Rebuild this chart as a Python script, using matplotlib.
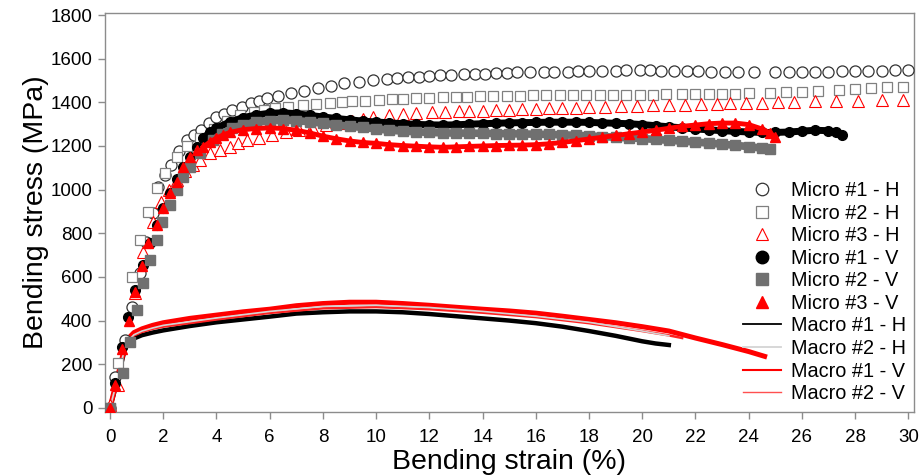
"""
Bending stress vs bending strain: micro specimens (markers) and macro specimens (lines),
H and V orientations.
"""

import numpy as np
import matplotlib
matplotlib.use('Agg')
import matplotlib.pyplot as plt
from matplotlib.lines import Line2D

# ── Data ──────────────────────────────────────────────────────────────────────
# Micro #1 - H (open circles)
m1h_x = [0, 0.19, 0.56, 0.83, 1.13, 1.35, 1.6, 1.8, 2.05, 2.3, 2.6, 2.9, 3.15, 3.4, 3.7,
         4.0, 4.3, 4.6, 4.95, 5.3, 5.6, 5.9, 6.3, 6.8, 7.3, 7.8, 8.3, 8.8, 9.35, 9.9,
         10.4, 10.8, 11.2, 11.6, 12.0, 12.4, 12.8, 13.3, 13.7, 14.1, 14.5, 14.9, 15.3,
         15.8, 16.3, 16.7, 17.2, 17.6, 18.0, 18.5, 19.0, 19.4, 19.9, 20.3, 20.7, 21.2,
         21.7, 22.1, 22.6, 23.1, 23.6, 24.2, 25.0, 25.5, 26.0, 26.5, 27.0, 27.5, 28.0,
         28.5, 29.0, 29.5, 30.0]
m1h_y = [0, 142, 311, 462, 618, 760, 892, 1011, 1065, 1112, 1175, 1227, 1250, 1272, 1305,
         1332, 1348, 1364, 1380, 1396, 1408, 1419, 1430, 1442, 1453, 1465, 1476, 1487, 1494, 1501,
         1506, 1510, 1514, 1518, 1521, 1524, 1526, 1528, 1530, 1532, 1534, 1536, 1537,
         1538, 1539, 1540, 1541, 1542, 1543, 1544, 1545, 1546, 1547, 1546, 1545, 1544,
         1543, 1542, 1541, 1540, 1539, 1538, 1538, 1538, 1539, 1540, 1541, 1542, 1543,
         1544, 1545, 1546, 1547]

# Micro #2 - H (open squares)
m2h_x = [0, 0.3, 0.83, 1.13, 1.43, 1.76, 2.07, 2.5, 2.9, 3.38, 3.9, 4.4, 4.9, 5.4, 5.8,
         6.2, 6.7, 7.25, 7.75, 8.26, 8.7, 9.1, 9.6, 10.1, 10.6, 11.0, 11.5, 12.0, 12.5,
         13.0, 13.4, 13.9, 14.4, 14.9, 15.4, 15.9, 16.4, 16.9, 17.4, 17.9, 18.4, 18.9,
         19.4, 19.9, 20.4, 20.9, 21.5, 22.0, 22.5, 23.0, 23.5, 24.0, 24.8, 25.4, 26.0,
         26.6, 27.4, 28.0, 28.6, 29.2, 29.8]
m2h_y = [0, 206, 600, 769, 897, 1007, 1076, 1149, 1200, 1236, 1280, 1315, 1340, 1355, 1365,
         1373, 1380, 1387, 1392, 1396, 1400, 1404, 1407, 1410, 1413, 1416, 1419, 1421, 1423,
         1425, 1426, 1428, 1429, 1430, 1431, 1432, 1432, 1433, 1433, 1433, 1434, 1434,
         1434, 1435, 1435, 1436, 1437, 1437, 1438, 1439, 1440, 1441, 1443, 1446, 1449,
         1452, 1456, 1460, 1464, 1468, 1472]

# Micro #3 - H (open triangles)
m3h_x = [0, 0.3, 0.94, 1.24, 1.6, 1.9, 2.2, 2.5, 2.8, 3.1, 3.38, 3.75, 4.13, 4.5, 4.8,
         5.14, 5.6, 6.1, 6.6, 7.1, 7.6, 8.1, 8.6, 9.1, 9.5, 9.9, 10.5, 11.0, 11.5, 12.1,
         12.6, 13.1, 13.5, 14.0, 14.5, 15.0, 15.5, 16.0, 16.5, 17.0, 17.5, 18.0, 18.6,
         19.2, 19.8, 20.4, 21.0, 21.6, 22.2, 22.8, 23.3, 23.9, 24.5, 25.1, 25.7, 26.5,
         27.3, 28.1, 29.0, 29.8]
m3h_y = [14, 105, 526, 714, 851, 943, 1000, 1045, 1085, 1115, 1135, 1167, 1181, 1195, 1213,
         1227, 1236, 1252, 1265, 1275, 1285, 1295, 1305, 1315, 1324, 1332, 1341, 1346, 1350, 1355,
         1357, 1359, 1361, 1362, 1364, 1366, 1368, 1370, 1372, 1374, 1376, 1378, 1380,
         1382, 1384, 1386, 1387, 1389, 1391, 1393, 1395, 1397, 1399, 1401, 1403, 1405,
         1407, 1408, 1409, 1410]

# Micro #1 - V (filled circles)
m1v_x = [0, 0.19, 0.45, 0.68, 0.94, 1.24, 1.5, 1.76, 2.0, 2.25, 2.5, 2.75, 3.0, 3.25, 3.5,
         3.75, 4.0, 4.5, 5.0, 5.5, 6.0, 6.5, 7.0, 7.5, 8.0, 8.5, 9.0, 9.5, 10.0, 10.5,
         11.0, 11.5, 12.0, 12.5, 13.0, 13.5, 14.0, 14.5, 15.0, 15.5, 16.0, 16.5, 17.0,
         17.5, 18.0, 18.5, 19.0, 19.5, 20.0, 20.5, 21.0, 21.5, 22.0, 22.5, 23.0, 23.5,
         24.0, 24.5, 25.0, 25.5, 26.0, 26.5, 27.0, 27.3, 27.5]
m1v_y = [0, 114, 279, 416, 540, 654, 755, 840, 915, 985, 1050, 1105, 1150, 1195, 1236,
         1262, 1282, 1310, 1330, 1342, 1350, 1352, 1348, 1340, 1333, 1326, 1320, 1314, 1310, 1306,
         1302, 1299, 1297, 1296, 1297, 1300, 1302, 1304, 1306, 1307, 1308, 1309, 1309,
         1309, 1308, 1306, 1304, 1302, 1298, 1293, 1288, 1283, 1278, 1274, 1270, 1267,
         1264, 1262, 1262, 1264, 1268, 1272, 1270, 1262, 1250]

# Micro #2 - V (filled squares)
m2v_x = [0, 0.5, 0.75, 1.0, 1.24, 1.5, 1.76, 1.95, 2.25, 2.5, 2.75, 3.0, 3.38, 3.87, 4.2,
         4.6, 5.0, 5.5, 6.0, 6.5, 7.0, 7.5, 8.0, 8.5, 9.0, 9.5, 10.0, 10.5, 11.0, 11.5,
         12.0, 12.5, 13.0, 13.5, 14.0, 14.5, 15.0, 15.5, 16.0, 16.5, 17.0, 17.5, 18.0,
         18.5, 19.0, 19.5, 20.0, 20.5, 21.0, 21.5, 22.0, 22.5, 23.0, 23.5, 24.0, 24.5, 24.8]
m2v_y = [0, 160, 300, 449, 572, 677, 769, 851, 929, 998, 1057, 1103, 1167, 1227, 1255,
         1282, 1296, 1309, 1315, 1318, 1316, 1311, 1304, 1297, 1290, 1285, 1278, 1272, 1268, 1265,
         1262, 1260, 1259, 1259, 1258, 1257, 1256, 1255, 1254, 1253, 1251, 1249, 1246,
         1243, 1240, 1237, 1234, 1230, 1226, 1222, 1218, 1213, 1208, 1203, 1197, 1190, 1186]

# Micro #3 - V (filled triangles)
m3v_x = [0, 0.2, 0.45, 0.7, 0.95, 1.2, 1.43, 1.76, 2.0, 2.25, 2.5, 2.75, 3.0, 3.27, 3.5,
         3.75, 4.0, 4.24, 4.5, 5.0, 5.5, 6.0, 6.5, 7.0, 7.5, 8.0, 8.5, 9.0, 9.5, 10.0,
         10.5, 11.0, 11.5, 12.0, 12.5, 13.0, 13.5, 14.0, 14.5, 15.0, 15.5, 16.0, 16.5,
         17.0, 17.5, 18.0, 18.5, 19.0, 19.5, 20.0, 20.5, 21.0, 21.5, 22.0, 22.5, 23.0,
         23.5, 24.0, 24.5, 24.8, 25.0]
m3v_y = [0, 105, 270, 400, 530, 650, 755, 838, 915, 984, 1034, 1103, 1149, 1181, 1195,
         1218, 1236, 1250, 1262, 1275, 1280, 1283, 1280, 1272, 1260, 1245, 1233, 1223, 1216, 1212,
         1206, 1202, 1199, 1196, 1194, 1196, 1198, 1200, 1202, 1203, 1204, 1206, 1210,
         1216, 1224, 1232, 1240, 1248, 1256, 1264, 1272, 1281, 1290, 1296, 1302, 1305,
         1305, 1298, 1278, 1260, 1240]

# Macro specimens (lines)
mac1h_x = [0, 0.2, 0.4, 0.55, 0.7, 0.9, 1.2, 1.6, 2, 3, 4, 5, 6, 7, 8, 9, 10, 11, 12, 13,
           14, 15, 16, 17, 18, 19, 20, 20.5, 21]
mac1h_y = [0, 90, 190, 265, 300, 318, 333, 345, 355, 375, 392, 405, 418, 432, 438, 442, 442,
           438, 430, 420, 410, 400, 388, 372, 352, 330, 305, 295, 288]

mac2h_x = [0, 0.2, 0.4, 0.55, 0.7, 0.9, 1.2, 1.6, 2, 4, 6, 8, 10, 12, 14, 16, 18, 20, 21]
mac2h_y = [0, 95, 195, 272, 310, 335, 352, 366, 378, 412, 442, 465, 470, 460, 442, 420, 392, 352, 330]

mac1v_x = [0, 0.2, 0.4, 0.55, 0.7, 0.9, 1.2, 1.6, 2, 3, 4, 5, 6, 7, 8, 9, 10, 11, 12, 13,
           14, 15, 16, 17, 18, 19, 20, 21, 22, 23, 24, 24.6]
mac1v_y = [0, 100, 200, 280, 320, 345, 362, 378, 390, 410, 425, 440, 452, 468, 478, 484, 484,
           478, 470, 461, 452, 444, 434, 420, 405, 390, 372, 352, 320, 290, 258, 236]

mac2v_x = [0, 0.2, 0.4, 0.55, 0.7, 0.9, 1.2, 1.6, 2, 4, 6, 8, 10, 12, 14, 16, 18, 20, 21, 21.5]
mac2v_y = [0, 95, 195, 275, 310, 332, 348, 362, 372, 405, 435, 456, 462, 452, 436, 416, 388, 352, 332, 320]

# ── Figure ────────────────────────────────────────────────────────────────────
plt.rcParams.update({
    'font.family': ['Liberation Sans', 'DejaVu Sans'],
    'axes.edgecolor': '#8c8c8c', 'axes.linewidth': 1.0,
    'xtick.color': '#8c8c8c', 'ytick.color': '#8c8c8c',
    'xtick.labelcolor': 'black', 'ytick.labelcolor': 'black',
    'xtick.major.size': 5, 'ytick.major.size': 5,
    'xtick.major.width': 1.0, 'ytick.major.width': 1.0,
})

fig = plt.figure(figsize=(9.21, 4.76), dpi=100)
ax = fig.add_axes([0.114, 0.134, 0.878, 0.839])

RED = '#ff0000'
GREY = '#707070'
BAND_FROM = 3.5   # filled markers merge into a continuous band beyond this strain

# macro lines first (under the markers)
ax.plot(mac1h_x, mac1h_y, color='black', lw=3.2, zorder=2)
ax.plot(mac2h_x, mac2h_y, color='#d4d4d4', lw=1.2, zorder=3)
ax.plot(mac1v_x, mac1v_y, color=RED, lw=3.6, zorder=2.5)
ax.plot(mac2v_x, mac2v_y, color='#ff2020', lw=1.8, zorder=2.6)

# open markers (H)
ax.plot(m1h_x, m1h_y, ls='none', marker='o', ms=8, mfc='white', mec='#333333', mew=0.9, zorder=4)
ax.plot(m2h_x, m2h_y, ls='none', marker='s', ms=7.5, mfc='white', mec='#808080', mew=0.9, zorder=4)
ax.plot(m3h_x, m3h_y, ls='none', marker='^', ms=8, mfc='white', mec=RED, mew=0.8, zorder=4)

# filled markers (V), with a band line under the dense part
for xs, ys, mk, col, lw, ms, z in [
    (m1v_x, m1v_y, 'o', 'black', 5.0, 7.0, 5),
    (m2v_x, m2v_y, 's', GREY,    5.5, 7.0, 5),
    (m3v_x, m3v_y, '^', RED,     3.5, 7.5, 6),
]:
    xs, ys = np.asarray(xs), np.asarray(ys)
    band = xs >= BAND_FROM
    ax.plot(xs[band], ys[band], color=col, lw=lw, zorder=z)
    ax.plot(xs, ys, ls='none', marker=mk, ms=ms, color=col, zorder=z)

ax.set_xlim(-0.19, 30.2)
ax.set_ylim(-20, 1810)
ax.set_xticks(np.arange(0, 31, 2))
ax.set_yticks(np.arange(0, 1801, 200))
ax.tick_params(axis='x', labelsize=13.5, pad=7)
ax.tick_params(axis='y', labelsize=13.5, pad=4)
ax.set_xlabel('Bending strain (%)', fontsize=20.5, labelpad=2)
ax.set_ylabel('Bending stress (MPa)', fontsize=20.5, labelpad=1)

handles = [
    Line2D([], [], ls='none', marker='o', ms=9, mfc='white', mec='#333333', mew=0.9),
    Line2D([], [], ls='none', marker='s', ms=8.5, mfc='white', mec='#808080', mew=0.9),
    Line2D([], [], ls='none', marker='^', ms=9, mfc='white', mec=RED, mew=0.8),
    Line2D([], [], ls='none', marker='o', ms=9, color='black'),
    Line2D([], [], ls='none', marker='s', ms=8.5, color=GREY),
    Line2D([], [], ls='none', marker='^', ms=9, color=RED),
    Line2D([], [], color='black', lw=1.3),
    Line2D([], [], color='#d4d4d4', lw=1.3),
    Line2D([], [], color=RED, lw=1.5),
    Line2D([], [], color='#ff5050', lw=1.0),
]
labels = ['Micro #1 - H', 'Micro #2 - H', 'Micro #3 - H',
          'Micro #1 - V', 'Micro #2 - V', 'Micro #3 - V',
          'Macro #1 - H', 'Macro #2 - H', 'Macro #1 - V', 'Macro #2 - V']
ax.legend(handles, labels, loc='lower right', bbox_to_anchor=(1.008, -0.012),
          frameon=False, fontsize=14.3, labelspacing=0.18, handlelength=1.9,
          handletextpad=0.5, borderaxespad=0.3)

fig.savefig('out.png', dpi=100)
plt.close(fig)
